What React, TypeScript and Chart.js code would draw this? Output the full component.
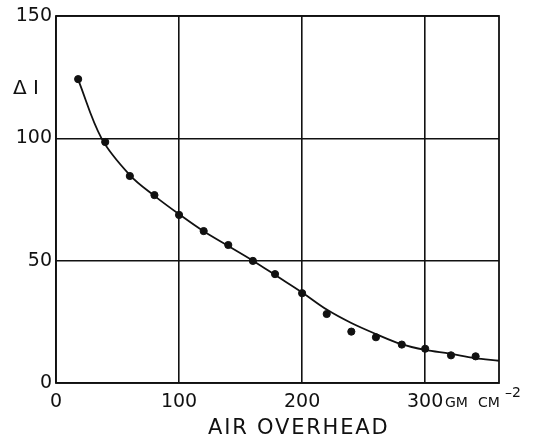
import React, { useEffect, useRef } from "react";
import { Chart, registerables } from "chart.js";

Chart.register(...registerables);

// Measured points
const pointX = [18, 40, 60, 80, 100, 120, 140, 160, 178, 200, 220, 240, 260, 281, 300, 321, 341];
const pointY = [124.2, 98.5, 84.6, 76.8, 68.7, 62.1, 56.4, 49.9, 44.5, 36.7, 28.2, 21.0, 18.7, 15.7, 14.0, 11.3, 10.9];

// Smooth fitted curve
const curveX = [18, 37, 60, 80, 100, 120, 140, 160, 180, 200, 220, 240, 260, 280, 300, 320, 340, 360];
const curveY = [124, 100, 85, 76.5, 69, 62, 56, 50, 43.5, 37, 30, 24.5, 20, 16, 13.5, 12, 10.2, 9.1];

const xTicks = [0, 100, 200, 300];
const yTicks = [0, 50, 100, 150];

const FONT = "'DejaVu Sans', sans-serif";

const annotations = {
  id: "annotations",
  afterDraw(chart: any) {
    const { ctx, chartArea } = chart;
    ctx.save();
    // frame
    ctx.strokeStyle = "#111";
    ctx.lineWidth = 1.8;
    ctx.strokeRect(chartArea.left, chartArea.top, chartArea.right - chartArea.left, chartArea.bottom - chartArea.top);
    ctx.fillStyle = "#111";
    // Delta I label
    ctx.font = `20px ${FONT}`;
    ctx.textAlign = "left";
    ctx.textBaseline = "middle";
    ctx.fillText("Δ", 13, 89);
    ctx.fillText("I", 33, 89);
    // axis title
    ctx.textAlign = "left";
    ctx.textBaseline = "middle";
    ctx.font = `21px ${FONT}`;
    (ctx as any).letterSpacing = "1.8px";
    ctx.fillText("AIR OVERHEAD", 208, 429);
    (ctx as any).letterSpacing = "0px";
    // units
    ctx.textAlign = "left";
    ctx.textBaseline = "alphabetic";
    ctx.font = `14px ${FONT}`;
    ctx.fillText("GM", 445, 407);
    ctx.fillText("CM", 478, 407);
    ctx.fillText("–2", 505, 397);
    ctx.restore();
  },
};

export default function App() {
  const ref = useRef<HTMLCanvasElement>(null);
  useEffect(() => {
    if (!ref.current) return;
    const chart = new Chart(ref.current, {
      type: "scatter",
      data: {
        datasets: [
          {
            data: curveX.map((x, i) => ({ x, y: curveY[i] })),
            showLine: true,
            borderColor: "#111",
            borderWidth: 1.8,
            pointRadius: 0,
            tension: 0.35,
            fill: false,
          } as any,
          {
            data: pointX.map((x, i) => ({ x, y: pointY[i] })),
            showLine: false,
            backgroundColor: "#111",
            borderColor: "#111",
            pointRadius: 3.6,
          },
        ],
      },
      options: {
        animation: false,
        responsive: false,
        maintainAspectRatio: false,
        layout: { padding: { top: 16, right: 37, left: 0, bottom: 0 } },
        plugins: { legend: { display: false }, tooltip: { enabled: false } },
        scales: {
          x: {
            type: "linear",
            min: 0,
            max: 360,
            afterFit(scale: any) {
              scale.height = 57;
            },
            afterBuildTicks(scale: any) {
              scale.ticks = xTicks.map((v) => ({ value: v }));
            },
            border: { display: false },
            grid: { color: "#111", lineWidth: 1.6, tickLength: 0, drawTicks: false },
            ticks: {
              color: "#111",
              font: { family: FONT, size: 19 },
              padding: 8,
              maxRotation: 0,
            },
          },
          y: {
            type: "linear",
            min: 0,
            max: 150,
            afterFit(scale: any) {
              scale.width = 56;
            },
            afterBuildTicks(scale: any) {
              scale.ticks = yTicks.map((v) => ({ value: v }));
            },
            border: { display: false },
            grid: { color: "#111", lineWidth: 1.6, tickLength: 0, drawTicks: false },
            ticks: {
              color: "#111",
              font: { family: FONT, size: 19 },
              padding: 4,
            },
          },
        },
      },
      plugins: [annotations],
    });
    return () => chart.destroy();
  }, []);
  return (
    <div style={{ position: "fixed", left: 0, top: 0, width: 536, height: 440, background: "#fff" }}>
      <canvas ref={ref} width={536} height={440} style={{ width: 536, height: 440 }} />
    </div>
  );
}
